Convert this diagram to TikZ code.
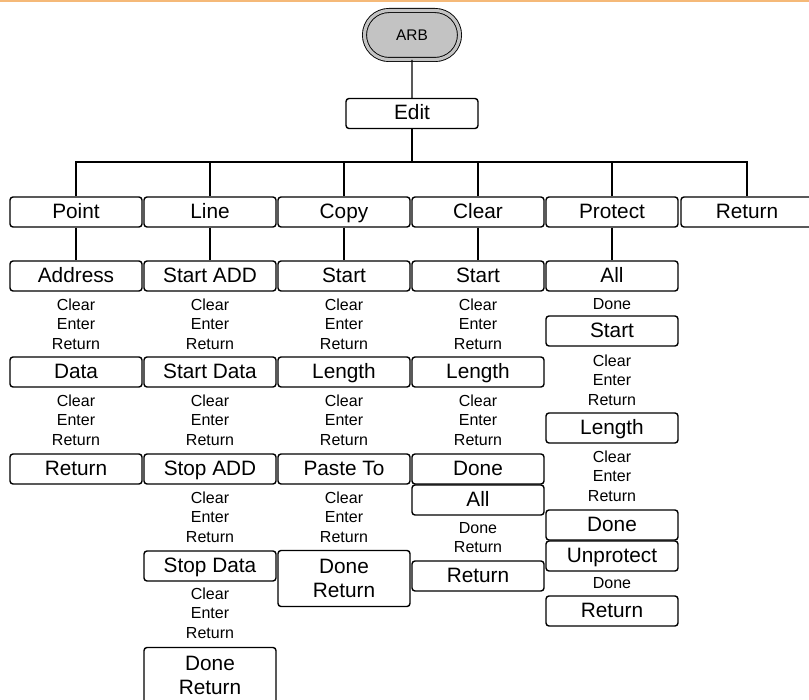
\documentclass[tikz,border=0pt]{standalone}
\usepackage{fontspec}
\setmainfont{Liberation Sans}
\usetikzlibrary{shapes.misc, positioning}
\definecolor{topline}{RGB}{245,185,120}
\definecolor{arbgray}{RGB}{195,195,195}

\begin{document}
\begin{tikzpicture}[x=0.5pt,y=-0.5pt,
  box/.style={draw,rounded corners=1.5pt,line width=0.7pt,minimum width=66pt,minimum height=15pt,inner sep=0pt,
              text height=8pt,text depth=1.6pt,align=center,font=\fontsize{10.4}{12}\selectfont},
  tallbox/.style={box,minimum height=28pt,text height=,text depth=},
  keys/.style={align=center,inner sep=0pt,font=\fontsize{8}{9.75}\selectfont},
  link/.style={line width=0.7pt}]
  \useasboundingbox (0,0) rectangle (809,700);
  \clip (0,0) rectangle (809,700);
  \fill[topline] (0,0) rectangle (809,2.5);
  \node[rounded rectangle,draw,line width=0.45pt,double=arbgray,double distance=1.6pt,fill=arbgray,
        minimum width=47.5pt,minimum height=24.5pt,inner sep=0pt,font=\fontsize{7.7}{9}\selectfont] (arb) at (412,35) {ARB};
  \node[box] (edit) at (412,113.5) {Edit};
  \coordinate (bar) at (412,162);

  \node[box] (point)   at (76,212)  {Point};
  \node[box] (line)    at (210,212) {Line};
  \node[box] (copy)    at (344,212) {Copy};
  \node[box] (clear)   at (478,212) {Clear};
  \node[box] (protect) at (612,212) {Protect};
  \node[box] (ret)     at (747,212) {Return};

  \node[box] (pAddr) at (76,276) {Address};
  \node[box] (pData) at (76,372) {Data};
  \node[box] (pRet)  at (76,469) {Return};

  \node[box] (lStartAdd)  at (210,276) {Start ADD};
  \node[box] (lStartData) at (210,372) {Start Data};
  \node[box] (lStopAdd)   at (210,469) {Stop ADD};
  \node[box] (lStopData)  at (210,566) {Stop Data};
  \node[tallbox] (lDone)  at (210,675.5) {Done\\Return};

  \node[box] (cStart)  at (344,276) {Start};
  \node[box] (cLength) at (344,372) {Length};
  \node[box] (cPaste)  at (344,469) {Paste To};
  \node[tallbox] (cDone) at (344,578.5) {Done\\Return};

  \node[box] (xStart)  at (478,276) {Start};
  \node[box] (xLength) at (478,372) {Length};
  \node[box] (xDone)   at (478,469) {Done};
  \node[box] (xAll)    at (478,500) {All};
  \node[box] (xRet)    at (478,576) {Return};

  \node[box] (rAll)    at (612,276) {All};
  \node[box] (rStart)  at (612,331) {Start};
  \node[box] (rLength) at (612,428) {Length};
  \node[box] (rDone)   at (612,525) {Done};
  \node[box] (rUnprot) at (612,556) {Unprotect};
  \node[box] (rRet)    at (612,611) {Return};

  \foreach \x/\y [count=\i] in {76/324,76/420,210/324,210/420,210/517,210/613,
                                344/324,344/420,344/517,478/324,478/420,612/380,612/476}
    \node[keys] (cer\i) at (\x,\y) {Clear\\Enter\\Return};
  \node[keys] (xKeys)   at (478,537.5) {Done\\Return};
  \node[keys] (rKeysA)  at (612,304)   {Done};
  \node[keys] (rKeysB)  at (612,583)   {Done};

  \draw[link] (arb) -- (edit);
  \draw[link] (edit) -- (bar);
  \draw[link] (point.north) |- (bar) -| (ret.north);
  \foreach \n in {line,copy,clear,protect}
    \draw[link] (\n.north) -- (\n.north |- bar);
  \foreach \a/\b in {point/pAddr,line/lStartAdd,copy/cStart,clear/xStart,protect/rAll}
    \draw[link] (\a) -- (\b);
\end{tikzpicture}
\end{document}
